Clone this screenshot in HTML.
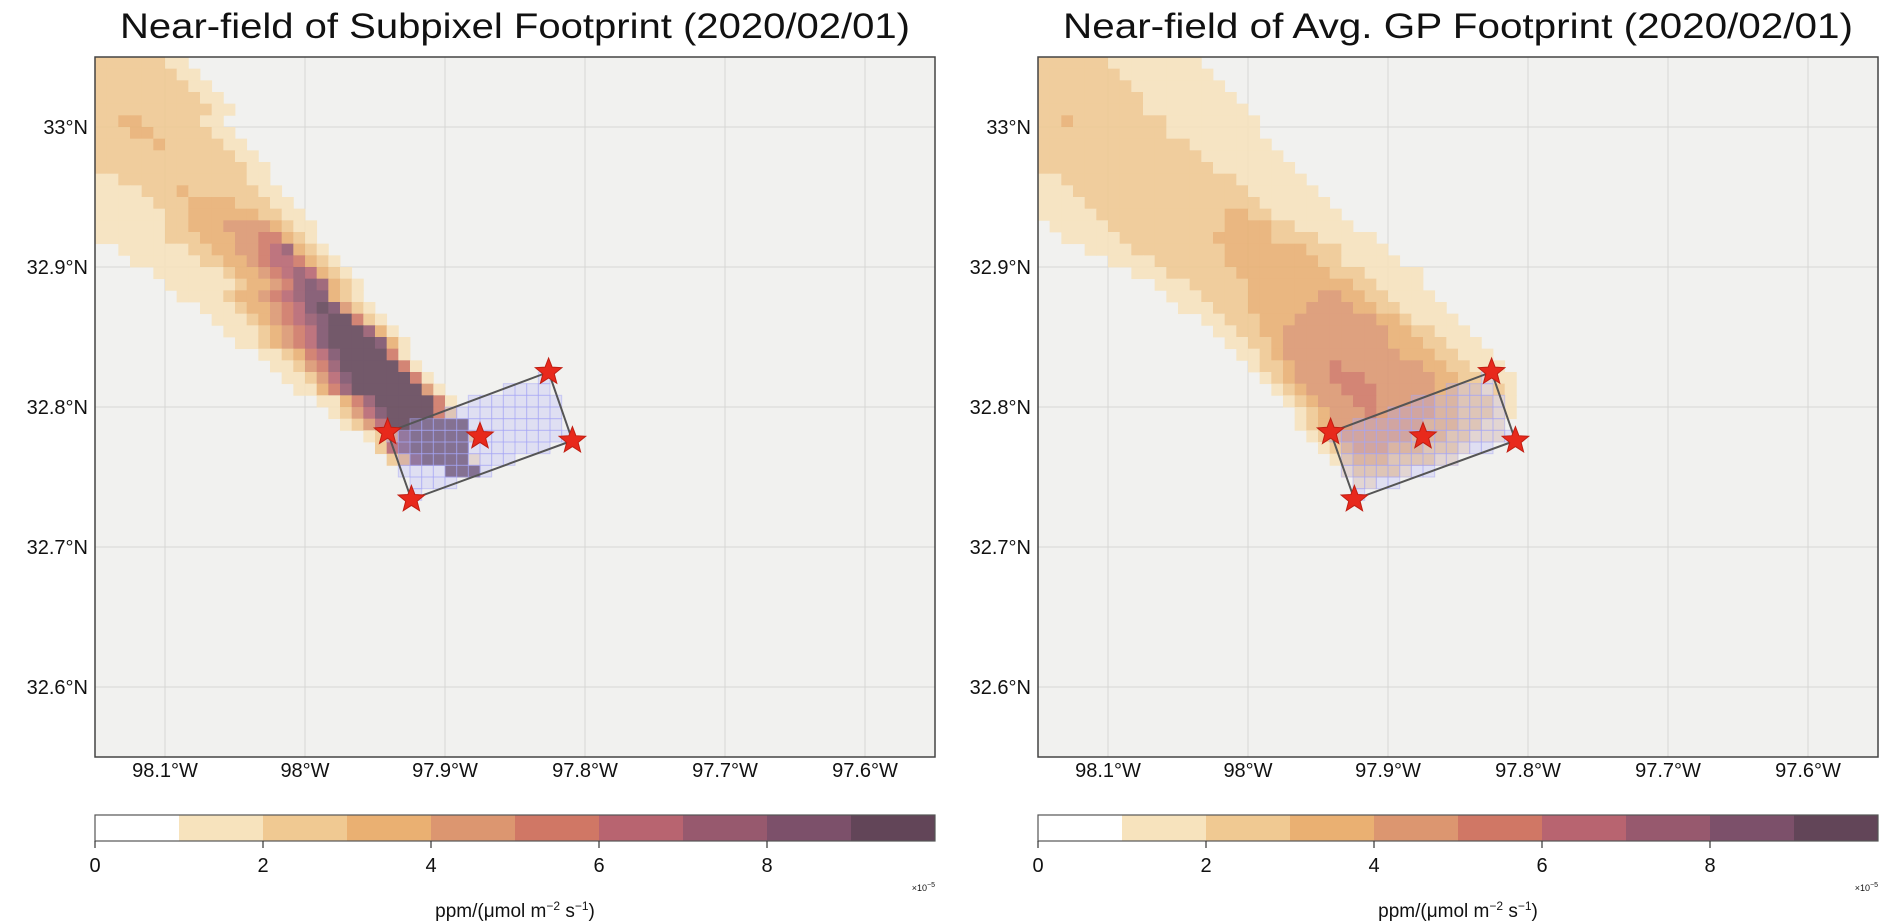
<!DOCTYPE html>
<html><head><meta charset="utf-8"><style>
html,body{margin:0;padding:0;background:#fff;}
svg{display:block;font-family:"Liberation Sans",sans-serif;}
</style></head><body>
<svg id="fig" width="1892" height="924" viewBox="0 0 1892 924" xmlns="http://www.w3.org/2000/svg">
<defs>
<clipPath id="clipL"><rect x="95" y="57" width="840" height="700"/></clipPath>
<clipPath id="clipR"><rect x="1038" y="57" width="840" height="700"/></clipPath>
</defs>
<g id="root"></g>
</svg>
<script>
// ---- data ----
const levelColors = ["#ffffff","#f7e3bd","#f0c992","#eab072","#dc9670","#d07765","#b86470","#97596e","#7c506a","#624558"];
const cbTicks = [0,2,4,6,8];
const lonTicks = [-98.1,-98.0,-97.9,-97.8,-97.7,-97.6];
const lonTickLabels = ["98.1°W","98°W","97.9°W","97.8°W","97.7°W","97.6°W"];
const latTicks = [33.0,32.9,32.8,32.7,32.6];
const latTickLabels = ["33°N","32.9°N","32.8°N","32.7°N","32.6°N"];
const titles = ["Near-field of Subpixel Footprint (2020/02/01)","Near-field of Avg. GP Footprint (2020/02/01)"];
// footprint rows (row index = 1/120 deg steps from 33.05N), start column and level digits
const leftRowStart = [0,0,0,0,0,0,0,0,0,0,0,0,0,0,0,0,2,3,5,6,7,9,10,11,12,14,15,16,17,19,20,21,23,24,25,30];
const leftRowLevels = [
"22222211","222222211","2222222211","22222222211","222222222211","22332222211","222332222211","2222232222211",
"22222222222211","222222222222211","112222222222211","1111222322222211","11111222333322211","111111223333332211",
"1111112233344443211","1111112223334455321","111111223344567321","111111223345665321","11111123345676321",
"11111123345787321","1111233456788321","111233456898421","111234567899521","111234568999731",
"112345689999831","1123568999951","1124579999951","1124689999951","1135799999941","113579999951",
"12468999952","12469999999","1248999992","26899999","23899991","999"];
const rightRowStart = [0,0,0,0,0,0,0,0,0,0,0,0,0,0,1,2,4,6,8,10,11,12,14,15,16,17,18,19,20,21,22,22,23,24,25,26,27];
const rightRowLevels = [
"22222211111111","222222211111111","2222222211111111","22222222211111111","222222222111111111",
"2232222222211111111","2222222222211111111","22222222222221111111","222222222222221111111",
"2222222222222221111111","11222222222222222111111","111222222222222222111111","1111222222222222222111111",
"11111222222222223322111111","11111222222222233332211111","111112222222233333222211111",
"11112222222233333332221111","1111222222333333332211111","1112222223333333322211111",
"11122222333333333221111","11122223333334433221111","11122233333444433221111","1122233344444443321111",
"1122334444444443322111","1122344444444433322111","1123444444444433322111","1223444544444443322111",
"1234445554444443322111","123444555444443322121","12344455444443322211","1234445444443322211",
"123444444443332211","12344444433322111","1234443332221","12333222211","122221","11"];
// footprint polygon & receptor stars (lon, lat)
const boxLon = [-97.941,-97.826,-97.809,-97.924];
const boxLat = [32.782,32.825,32.776,32.734];
const starLon = [-97.941,-97.826,-97.809,-97.924,-97.875];
const starLat = [32.782,32.825,32.776,32.734,32.779];

// ---- scales ----
const NS="http://www.w3.org/2000/svg";
const lonMin=-98.15, latMax=33.05, ppd=1400, Y0=57, PW=840, PH=700;
const panels=[{x0:95,clip:"clipL",rs:leftRowStart,rl:leftRowLevels,name:"subpixel"},
              {x0:1038,clip:"clipR",rs:rightRowStart,rl:rightRowLevels,name:"avg-gp"}];
function xS(p,lon){return p.x0+(lon-lonMin)*ppd;}
function yS(lat){return Y0+(latMax-lat)*ppd;}
const cell=ppd/120;
const root=document.getElementById('root');
function el(tag,attrs,parent){const e=document.createElementNS(NS,tag);for(const k in attrs)e.setAttribute(k,attrs[k]);(parent||root).appendChild(e);return e;}
function inPoly(px,py,xs,ys){let c=false;for(let i=0,j=xs.length-1;i<xs.length;j=i++){if(((ys[i]>py)!=(ys[j]>py))&&(px<(xs[j]-xs[i])*(py-ys[i])/(ys[j]-ys[i])+xs[i]))c=!c;}return c;}
function starPts(cx,cy,R,r){let s=[];for(let i=0;i<10;i++){const a=-Math.PI/2+i*Math.PI/5;const rr=i%2?r:R;s.push((cx+rr*Math.cos(a)).toFixed(1)+","+(cy+rr*Math.sin(a)).toFixed(1));}return s.join(" ");}

panels.forEach((p,pi)=>{
  const g=el('g',{});
  
  
  const bg=el('rect',{x:p.x0,y:Y0,width:PW,height:PH,fill:'#f1f1ef'},g);
  
  
  const inner=el('g',{'clip-path':'url(#'+p.clip+')'},g);
  lonTicks.forEach(l=>{const x=xS(p,l);const ln=el('line',{x1:x,x2:x,y1:Y0,y2:Y0+PH,stroke:'#d6d6d4','stroke-width':1},inner);
    });
  latTicks.forEach(l=>{const y=yS(l);const ln=el('line',{x1:p.x0,x2:p.x0+PW,y1:y,y2:y,stroke:'#d6d6d4','stroke-width':1},inner);
    });
  const cg=el('g',{opacity:0.88},inner);
  
  
  p.rl.forEach((str,r)=>{
    for(let k=0;k<str.length;k++){
      const lv=+str[k]; if(!lv) continue;
      const c=p.rs[r]+k;
      const lon=lonMin+c/120, lat=latMax-r/120;
      const rc=el('rect',{x:xS(p,lon).toFixed(2),y:yS(lat).toFixed(2),width:(cell+0.4).toFixed(2),height:(cell+0.4).toFixed(2),fill:levelColors[lv]},cg);
      
      
    }
  });
  const bx=boxLon.map(l=>xS(p,l)), by=boxLat.map(yS);
  const sg=el('g',{},inner);
  
  
  for(let r=0;r<60;r++)for(let c=0;c<72;c++){
    const x=xS(p,lonMin+c/120), y=yS(latMax-r/120);
    if(inPoly(x+cell/2,y+cell/2,bx,by)){
      const rc=el('rect',{x:x.toFixed(2),y:y.toFixed(2),width:cell.toFixed(2),height:cell.toFixed(2),fill:'rgba(175,175,250,0.28)',stroke:'rgba(165,165,245,0.5)','stroke-width':1},sg);
      
      
    }
  }
  const poly=el('polygon',{points:bx.map((x,i)=>x.toFixed(1)+','+by[i].toFixed(1)).join(' '),fill:'none',stroke:'#555','stroke-width':2},inner);
  
  
  starLon.forEach((l,i)=>{
    const s=el('polygon',{points:starPts(xS(p,l),yS(starLat[i]),14,6),fill:'#e8291c',stroke:'#c01e12','stroke-width':1},inner);
    
    
  });
  const fr=el('rect',{x:p.x0,y:Y0,width:PW,height:PH,fill:'none',stroke:'#444','stroke-width':1.5},g);
  
  
  const t=el('text',{x:p.x0+PW/2,y:38,'text-anchor':'middle','font-size':35,fill:'#111',textLength:790,lengthAdjust:'spacingAndGlyphs'},g);
  t.textContent=titles[pi];
  
  
  lonTicks.forEach((l,i)=>{const tx=el('text',{x:xS(p,l),y:777,'text-anchor':'middle','font-size':20,fill:'#111'},g);tx.textContent=lonTickLabels[i];
    });
  latTicks.forEach((l,i)=>{const tx=el('text',{x:p.x0-7,y:yS(l)+7,'text-anchor':'end','font-size':20,fill:'#111'},g);tx.textContent=latTickLabels[i];
    });
  const cb=el('g',{},g);
  
  
  const cw=PW/10;
  levelColors.forEach((col,i)=>{const r=el('rect',{x:(p.x0+i*cw).toFixed(2),y:815,width:(cw+0.5).toFixed(2),height:26,fill:col},cb);
    });
  el('rect',{x:p.x0,y:815,width:PW,height:26,fill:'none',stroke:'#555','stroke-width':1.2},cb);
  cbTicks.forEach(v=>{const x=p.x0+v/10*PW;
    el('line',{x1:x,x2:x,y1:841,y2:848,stroke:'#333','stroke-width':1.2},cb);
    const tx=el('text',{x:x,y:872,'text-anchor':'middle','font-size':20,fill:'#111'},cb);tx.textContent=v;
    });
  const cl=el('text',{x:p.x0+PW/2,y:917,'text-anchor':'middle','font-size':19,fill:'#111'},cb);
  cl.innerHTML='ppm/(μmol m<tspan dy="-7" font-size="12">−2</tspan><tspan dy="7"> s</tspan><tspan dy="-7" font-size="12">−1</tspan><tspan dy="7">)</tspan>';
  
  
  const ex=el('text',{x:p.x0+PW,y:891,'text-anchor':'end','font-size':9,fill:'#111'},cb);
  ex.innerHTML='×10<tspan dy="-4" font-size="7">−5</tspan>';
  
  
});
</script>
</body></html>
